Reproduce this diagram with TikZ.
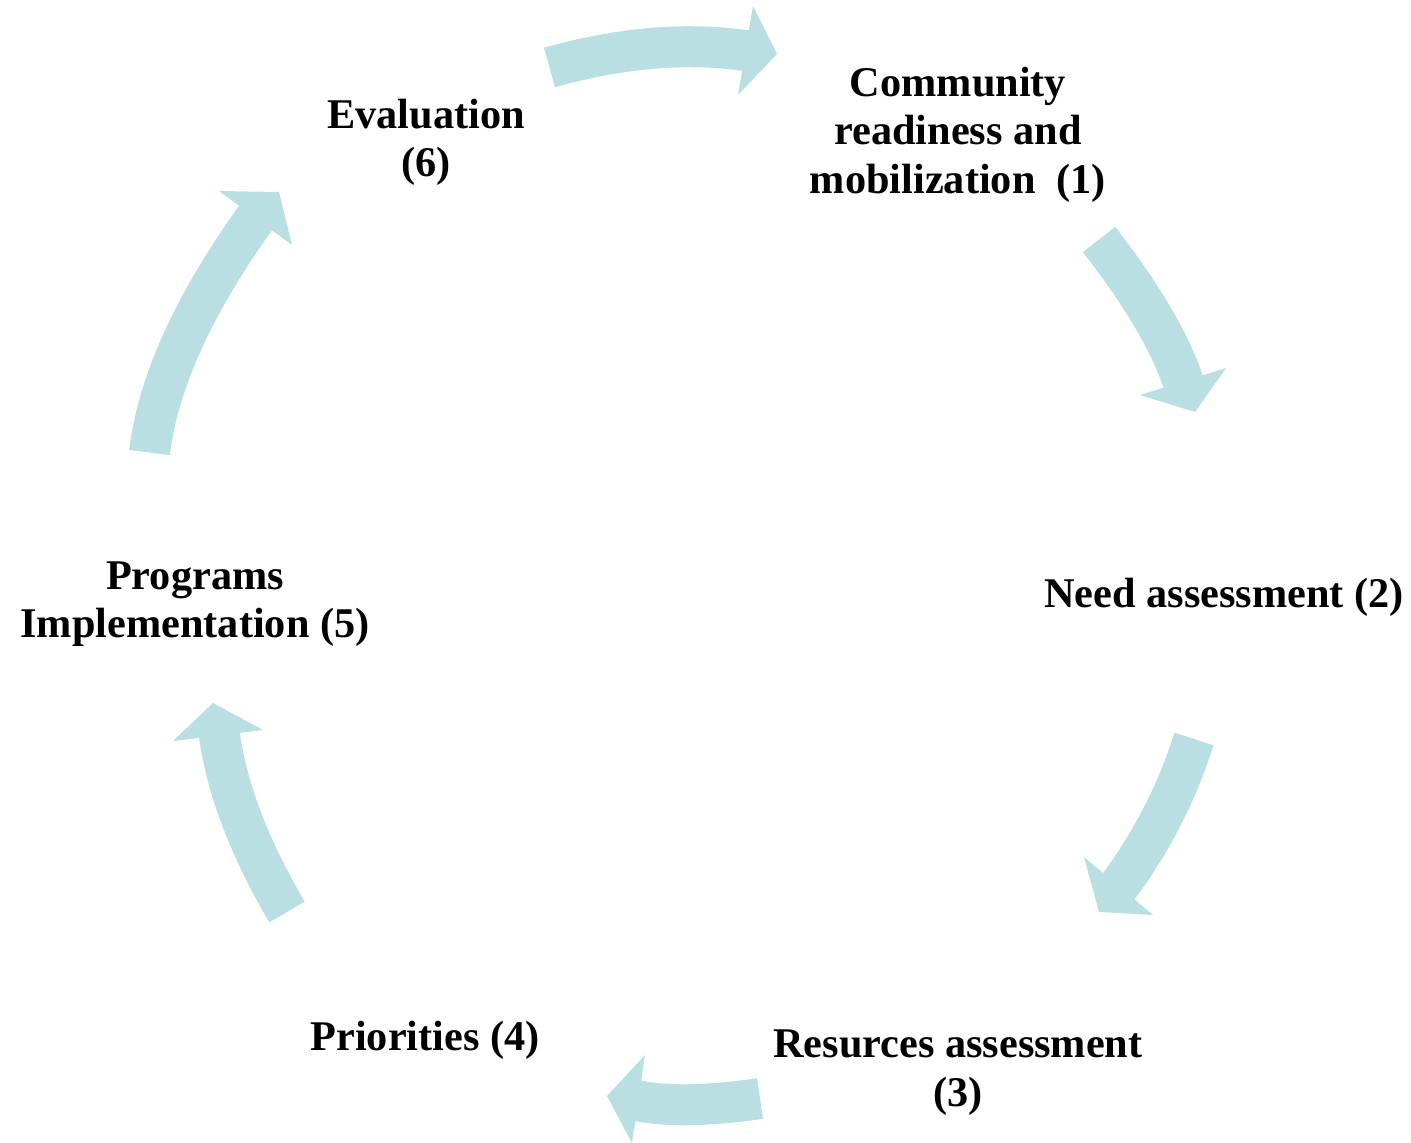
\documentclass[tikz,border=0pt]{standalone}
\usepackage{fontspec}
\setmainfont{Liberation Serif}
\usetikzlibrary{calc}
\definecolor{arrowblue}{RGB}{185,223,226}
\newcommand{\cyclearrow}[6]{%
  \draw[shaft] (#1) .. controls ($(#1)!2/3!(#2)$) and ($(#3)!2/3!(#2)$) .. (#3) -- ($(#3)!0.3!(#5)$);
  \fill[head] (#4) -- (#5) -- (#6) -- cycle;
}
\begin{document}
\begin{tikzpicture}[x=1pt,y=-1pt,
  lbl/.style={font=\fontsize{42.3}{48.5}\selectfont\bfseries, align=center, inner sep=0pt, anchor=base},
  shaft/.style={draw=arrowblue, line width=41pt},
  head/.style={fill=arrowblue}]
\useasboundingbox (0,0) rectangle (1411,1143);

% arrow 1: Evaluation -> Community
\coordinate (t1) at (549.5,67.5);  \coordinate (c1) at (654.5,37.9);  \coordinate (h1) at (745,50.5);
\coordinate (a1) at (753,6);       \coordinate (p1) at (777,54);      \coordinate (b1) at (738,95);
% arrow 2
\coordinate (t2) at (1099,239.5);  \coordinate (c2) at (1161.5,319.4); \coordinate (h2) at (1183,381);
\coordinate (a2) at (1226,368);    \coordinate (p2) at (1195,412);     \coordinate (b2) at (1140,395);
% arrow 3
\coordinate (t3) at (1194,739);    \coordinate (c3) at (1169.1,817.7); \coordinate (h3) at (1120,884.5);
\coordinate (a3) at (1153,915);    \coordinate (p3) at (1099,912);     \coordinate (b3) at (1084,857);
% arrow 4
\coordinate (t4) at (760,1098.5);  \coordinate (c4) at (684.2,1109.6); \coordinate (h4) at (639,1101);
\coordinate (a4) at (645,1055);    \coordinate (p4) at (607,1096);     \coordinate (b4) at (632,1143);
% arrow 5
\coordinate (t5) at (287,912);     \coordinate (c5) at (231.4,817.5);  \coordinate (h5) at (219.5,736);
\coordinate (a5) at (173,741);     \coordinate (p5) at (213,703);      \coordinate (b5) at (263,730);
% arrow 6
\coordinate (t6) at (149.5,452.5); \coordinate (c6) at (162.1,348.8);  \coordinate (h6) at (254.5,219.5);
\coordinate (a6) at (219,191);     \coordinate (p6) at (279,192);      \coordinate (b6) at (292,245);

\cyclearrow{t1}{c1}{h1}{a1}{p1}{b1}
\cyclearrow{t2}{c2}{h2}{a2}{p2}{b2}
\cyclearrow{t3}{c3}{h3}{a3}{p3}{b3}
\cyclearrow{t4}{c4}{h4}{a4}{p4}{b4}
\cyclearrow{t5}{c5}{h5}{a5}{p5}{b5}
\cyclearrow{t6}{c6}{h6}{a6}{p6}{b6}

% base anchor = baseline of the last line
\node[lbl] (community) at (958,193) {Community\\readiness and\\mobilization~~(1)};
\node[lbl] (need) at (1224,607) {Need assessment (2)};
\node[lbl] (resources) at (958,1106) {Resurces assessment\\(3)};
\node[lbl] (priorities) at (425,1050) {Priorities (4)};
\node[lbl] (programs) at (195,637.5) {Programs\\Implementation (5)};
\node[lbl] (evaluation) at (426,176.5) {Evaluation\\(6)};
\end{tikzpicture}
\end{document}
